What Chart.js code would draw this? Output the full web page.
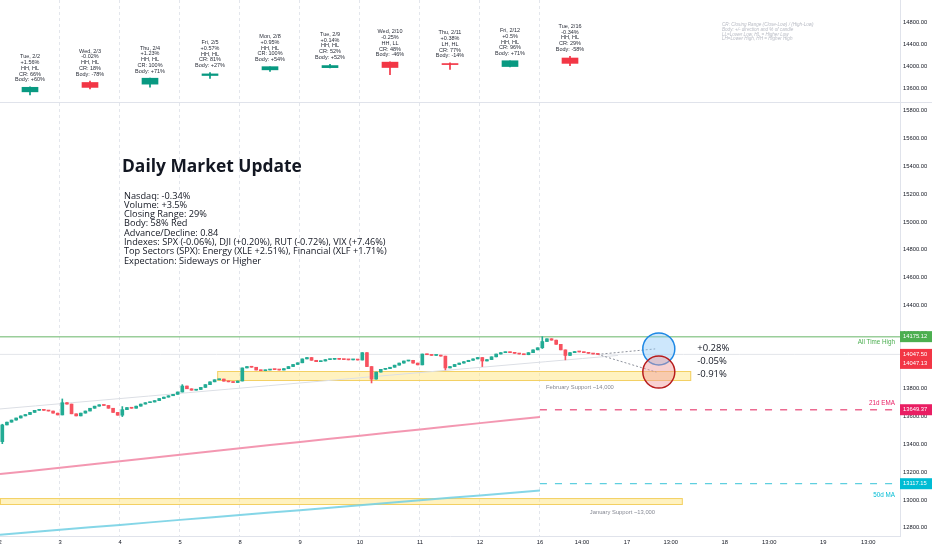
<!DOCTYPE html>
<html lang="en">
<head>
<meta charset="utf-8">
<title>Daily Market Update</title>
<script src="https://cdn.jsdelivr.net/npm/chart.js@4.4.1/dist/chart.umd.min.js"></script>
<style>
  body { margin: 0; background: #fff; }
  #lienzo { position: relative; width: 932px; height: 550px; overflow: hidden; }
  #arriba { position: absolute; left: 0; top: 0; }
  #principal { position: absolute; left: 0; top: 103px; }
  #titulo { position: absolute; left: 122px; top: 157px; font: bold 17.4px/17.4px "Open Sans"; color: #131722; white-space: nowrap; }
  #notas { position: absolute; left: 124px; top: 190.5px; font: 9.2px/9.3px "Open Sans"; color: #131722; white-space: pre; }
</style>
</head>
<body>
<div id="lienzo">
  <canvas id="arriba" width="932" height="103"></canvas>
  <canvas id="principal" width="932" height="447"></canvas>
  <div id="titulo">Daily Market Update</div>
  <div id="notas"></div>
</div>
<script>
// Colores y fuentes
const verde = '#089981', rojo = '#f23645';
const fuenteEje = '"Liberation Sans", Arial, sans-serif';

// Texto del resumen
const notas = [
  'Nasdaq: -0.34%',
  'Volume: +3.5%',
  'Closing Range: 29%',
  'Body: 58% Red',
  'Advance/Decline: 0.84',
  'Indexes: SPX (-0.06%), DJI (+0.20%), RUT (-0.72%), VIX (+7.46%)',
  'Top Sectors (SPX): Energy (XLE +2.51%), Financial (XLF +1.71%)',
  'Expectation: Sideways or Higher'
];

// Panel superior: velas diarias
const diasTexto = ['Tue, 2/2', 'Wed, 2/3', 'Thu, 2/4', 'Fri, 2/5', 'Mon, 2/8', 'Tue, 2/9', 'Wed, 2/10', 'Thu, 2/11', 'Fri, 2/12', 'Tue, 2/16'];
const diasCambio = ['+1.56%', '-0.02%', '+1.23%', '+0.57%', '+0.95%', '+0.14%', '-0.25%', '+0.38%', '+0.5%', '-0.34%'];
const diasEstructura = ['HH, HL', 'HH, HL', 'HH, HL', 'HH, HL', 'HH, HL', 'HH, HL', 'HH, LL', 'LH, HL', 'HH, HL', 'HH, HL'];
const diasCR = ['CR: 66%', 'CR: 18%', 'CR: 100%', 'CR: 81%', 'CR: 100%', 'CR: 52%', 'CR: 48%', 'CR: 77%', 'CR: 96%', 'CR: 29%'];
const diasBody = ['Body: +60%', 'Body: -78%', 'Body: +71%', 'Body: +27%', 'Body: +54%', 'Body: +52%', 'Body: -46%', 'Body: -14%', 'Body: +71%', 'Body: -58%'];
const diasOpen = [13530, 13700, 13670, 13827, 13930, 13970, 14070, 14043, 13990, 14145];
const diasHigh = [13620, 13727, 13778, 13878, 13987, 14028, 14075, 14058, 14096, 14175.12];
const diasLow = [13475, 13581, 13617, 13775, 13900, 13966, 13842, 13936, 13984, 14008];
const diasClose = [13612.78, 13610.54, 13777.74, 13856.30, 13987.64, 14007.70, 13972.53, 14025.77, 14095.47, 14047.50];
const ticksArriba = [13600, 14000, 14400, 14800];
const leyendaCR = [
  'CR: Closing Range (Close-Low) / (High-Low)',
  'Body: +/- direction and % of candle',
  'LL=Lower Low, HL = Higher Low',
  'LH=Lower High, HH = Higher High'
];

// Panel principal: velas intradia (13 barras por dia)
const aperturaInicial = 13420;
const cierresDia = [
  [13540, 13560, 13575, 13590, 13605, 13615, 13630, 13645, 13650, 13645, 13640, 13625, 13612],
  [13700, 13690, 13620, 13605, 13625, 13640, 13660, 13675, 13685, 13680, 13660, 13630, 13610],
  [13650, 13665, 13660, 13675, 13690, 13700, 13705, 13715, 13730, 13740, 13750, 13760, 13777],
  [13820, 13800, 13790, 13795, 13810, 13830, 13850, 13865, 13870, 13855, 13850, 13845, 13856],
  [13950, 13960, 13955, 13935, 13930, 13935, 13940, 13938, 13935, 13945, 13960, 13975, 13987],
  [14015, 14025, 14005, 13995, 14000, 14010, 14012, 14015, 14012, 14010, 14008, 14010, 14007],
  [14060, 13960, 13870, 13920, 13940, 13945, 13955, 13970, 13985, 14000, 14005, 13985, 13972],
  [14050, 14045, 14040, 14042, 14035, 13950, 13960, 13975, 13985, 13995, 14005, 14015, 14025],
  [14000, 14010, 14030, 14050, 14060, 14065, 14060, 14055, 14050, 14045, 14060, 14080, 14095],
  [14140, 14160, 14150, 14120, 14080, 14040, 14060, 14068, 14065, 14060, 14055, 14050, 14047.5]
];
// mechas largas visibles
const mechaDia = [0, 1, 2, 3, 6, 7, 8, 9, 9];
const mechaBarra = [0, 0, 0, 0, 2, 5, 0, 0, 5];
const mechaAlto = [13545, 13727, 13672, 13830, 13960, 14035, 14025, 14175.12, 14080];
const mechaBajo = [13405, 13612, 13600, 13777, 13842, 13936, 13960, 14090, 14008];

// Medias moviles (un valor por dia)
const mediasDia = [0, 1, 2, 3, 4, 5, 6, 7, 8, 9];
const ema21 = [13187, 13232, 13278, 13325, 13372, 13418, 13463, 13508, 13553, 13597];
const sma50 = [12750, 12786, 12821, 12857, 12892, 12927, 12962, 12998, 13033, 13068];
const ultimoEma = 13649.37, ultimoSma = 13117.15;
const maximoHistorico = 14175.12;
const ultimoPrecio = 14047.50, precioPrevio = 14047.13;

// Zonas y lineas dibujadas
const soporteFeb = [3.62, 11.52, 13856, 13928];
const soporteEne = [0, 11.38, 12964, 13014];
const tendX = [0, 10.3], tendY = [13655, 14040];
const proyTexto = ['+0.28%', '-0.05%', '-0.91%'];
const proyNivel = [14087, 14040, 13920];

// Eje x
const posTicks = [0, 1, 2, 3, 4, 5, 6, 7, 8, 9, 9.7, 10.45, 11.18, 12.08, 12.82, 13.72, 14.47];
const textoTicks = ['2', '3', '4', '5', '8', '9', '10', '11', '12', '16', '14:00', '17', '13:00', '18', '13:00', '19', '13:00'];
const ticksPrincipal = [12800, 13000, 13200, 13400, 13600, 13800, 14000, 14200, 14400, 14600, 14800, 15000, 15200, 15400, 15600, 15800];

document.getElementById('notas').textContent = notas.join('\n');

// Lineas verticales punteadas entre dias
function lineasDias(chart) {
  const {ctx, chartArea: a, scales: {x}} = chart;
  ctx.save();
  ctx.strokeStyle = '#e3e6ec';
  ctx.lineWidth = 1;
  ctx.setLineDash([3, 3]);
  for (let d = 1; d < diasTexto.length; d++) {
    const px = Math.round(x.getPixelForValue(d)) - 0.5;
    ctx.beginPath();
    ctx.moveTo(px, a.top);
    ctx.lineTo(px, a.bottom);
    ctx.stroke();
  }
  ctx.restore();
}

function ejeY(min, max, valores) {
  return {
    position: 'right', min, max,
    grid: { display: false, drawTicks: false },
    border: { color: '#e0e3eb' },
    afterFit(s) { s.width = 32; s.paddingTop = 0; s.paddingBottom = 0; },
    afterBuildTicks(s) { s.ticks = valores.map(v => ({ value: v })); },
    ticks: { padding: 3, color: '#131722', font: { family: fuenteEje, size: 5.8 }, callback: v => v.toFixed(2) }
  };
}

// ---------- Panel superior ----------
const diasCuerpo = diasOpen.map((o, d) => ({ x: d + 0.5, y: [o, diasClose[d]] }));
const diasMecha = diasLow.map((l, d) => ({ x: d + 0.5, y: [l, diasHigh[d]] }));
const diasColor = diasClose.map((c, d) => c >= diasOpen[d] ? verde : rojo);

const anotacionesArriba = {
  id: 'anotacionesArriba',
  beforeDatasetsDraw: lineasDias,
  afterDatasetsDraw(chart) {
    const {ctx, scales: {x, y}} = chart;
    ctx.save();
    ctx.fillStyle = '#2a2e39';
    ctx.font = `5.5px ${fuenteEje}`;
    ctx.textAlign = 'center';
    ctx.textBaseline = 'middle';
    diasTexto.forEach((t, d) => {
      const lineas = [t, diasCambio[d], diasEstructura[d], diasCR[d], diasBody[d]];
      const px = x.getPixelForValue(d + 0.5);
      const base = y.getPixelForValue(diasHigh[d]) - 7;
      lineas.forEach((l, i) => ctx.fillText(l, px, base - (lineas.length - 1 - i) * 5.75));
    });
    ctx.fillStyle = '#b8bbc4';
    ctx.font = `italic 4.6px ${fuenteEje}`;
    ctx.textAlign = 'left';
    leyendaCR.forEach((l, i) => ctx.fillText(l, 722, 25 + i * 4.7));
    ctx.restore();
  },
  afterDraw(chart) {
    const {ctx} = chart;
    ctx.save();
    ctx.strokeStyle = '#e0e3eb';
    ctx.beginPath();
    ctx.moveTo(0, chart.height - 0.5);
    ctx.lineTo(chart.width, chart.height - 0.5);
    ctx.stroke();
    ctx.restore();
  }
};

new Chart(document.getElementById('arriba'), {
  type: 'bar',
  data: {
    datasets: [
      { data: diasMecha, backgroundColor: diasColor, barThickness: 1, grouped: false },
      { data: diasCuerpo, backgroundColor: diasColor, barThickness: 16, grouped: false, minBarLength: 1 }
    ]
  },
  options: {
    responsive: false, animation: false,
    layout: { padding: 0, autoPadding: false },
    plugins: { legend: { display: false }, tooltip: { enabled: false } },
    scales: {
      x: { type: 'linear', min: 0, max: 15, offset: false, display: false },
      y: ejeY(13327, 15200, ticksArriba)
    }
  },
  plugins: [anotacionesArriba]
});

// ---------- Panel principal ----------
const cuerpos = [], mechas = [], coloresVela = [];
let previo = aperturaInicial;
cierresDia.forEach((dia, d) => {
  dia.forEach((c, b) => {
    const x = d + (b + 0.5) / dia.length;
    const o = previo;
    let hi = Math.max(o, c), lo = Math.min(o, c);
    const k = mechaDia.findIndex((v, i) => v === d && mechaBarra[i] === b);
    if (k >= 0) { hi = mechaAlto[k]; lo = mechaBajo[k]; }
    cuerpos.push({ x, y: [o, c] });
    mechas.push({ x, y: [lo, hi] });
    coloresVela.push(c >= o ? '#22ab94' : '#f7525f');
    previo = c;
  });
});
const ultimaX = cuerpos[cuerpos.length - 1].x;
const finEje = 15;

function linea(puntos, color, ancho, dash, orden) {
  return { type: 'line', data: puntos, borderColor: color, borderWidth: ancho, borderDash: dash || [],
           pointRadius: 0, fill: false, tension: 0.3, order: orden };
}

function etiquetaPrecio(ctx, yPix, color, textos, left, width) {
  const h = 11 + (textos.length - 1) * 9;
  ctx.fillStyle = color;
  ctx.fillRect(left, yPix - 5.5, width, h);
  ctx.fillStyle = '#fff';
  ctx.font = `5.8px ${fuenteEje}`;
  ctx.textAlign = 'left';
  ctx.textBaseline = 'middle';
  textos.forEach((t, i) => ctx.fillText(t, left + 3, yPix + i * 9));
}

const dibujosPrincipal = {
  id: 'dibujosPrincipal',
  beforeDatasetsDraw(chart) {
    lineasDias(chart);
    const {ctx, scales: {x, y}} = chart;
    ctx.save();
    [soporteFeb, soporteEne].forEach(z => {
      const x0 = x.getPixelForValue(z[0]), x1 = x.getPixelForValue(z[1]);
      const y0 = y.getPixelForValue(z[3]), y1 = y.getPixelForValue(z[2]);
      ctx.fillStyle = 'rgba(255,229,130,0.5)';
      ctx.fillRect(x0, y0, x1 - x0, y1 - y0);
      ctx.strokeStyle = 'rgba(242,205,90,0.9)';
      ctx.lineWidth = 1;
      ctx.strokeRect(x0 + 0.5, y0 + 0.5, x1 - x0 - 1, y1 - y0 - 1);
    });
    ctx.restore();
  },
  afterDatasetsDraw(chart) {
    const {ctx, chartArea: a, scales: {x, y}} = chart;
    ctx.save();
    // circulos de objetivo
    const cx = x.getPixelForValue(10.98);
    [[proyNivel[0], 'rgba(144,202,249,0.45)', '#1e88e5'], [proyNivel[2], 'rgba(239,154,154,0.45)', '#b71c1c']].forEach(c => {
      ctx.beginPath();
      ctx.arc(cx, y.getPixelForValue(c[0]), 16, 0, Math.PI * 2);
      ctx.fillStyle = c[1];
      ctx.fill();
      ctx.strokeStyle = c[2];
      ctx.lineWidth = 1.5;
      ctx.stroke();
    });
    // textos de proyeccion
    ctx.fillStyle = '#131722';
    ctx.font = '9.5px "Open Sans"';
    ctx.textAlign = 'left';
    ctx.textBaseline = 'middle';
    let yAnt = -100;
    proyTexto.forEach((t, i) => {
      const py = Math.max(y.getPixelForValue(proyNivel[i]) - 1, yAnt + 13);
      ctx.fillText(t, x.getPixelForValue(11.62), py);
      yAnt = py;
    });
    // etiquetas de lineas
    ctx.font = `6.3px ${fuenteEje}`;
    ctx.textAlign = 'right';
    ctx.fillStyle = '#4caf50';
    ctx.fillText('All Time High', a.right - 5, y.getPixelForValue(maximoHistorico) + 6);
    ctx.fillStyle = '#e91e63';
    ctx.fillText('21d EMA', a.right - 5, y.getPixelForValue(ultimoEma) - 6);
    ctx.fillStyle = '#00bcd4';
    ctx.fillText('50d MA', a.right - 5, y.getPixelForValue(ultimoSma) + 12);
    ctx.font = `5.8px ${fuenteEje}`;
    ctx.textAlign = 'left';
    ctx.fillStyle = '#868993';
    ctx.fillText('February Support ~14,000', x.getPixelForValue(9.1), y.getPixelForValue(soporteFeb[2]) + 6);
    ctx.fillText('January Support ~13,000', x.getPixelForValue(9.83), y.getPixelForValue(soporteEne[2]) + 7);
    ctx.restore();
  },
  afterDraw(chart) {
    const {ctx, chartArea: a, scales: {y}} = chart;
    ctx.save();
    const w = chart.width - a.right;
    etiquetaPrecio(ctx, y.getPixelForValue(maximoHistorico), '#4caf50', [maximoHistorico.toFixed(2)], a.right, w);
    etiquetaPrecio(ctx, y.getPixelForValue(ultimoPrecio), '#f23645', [ultimoPrecio.toFixed(2), precioPrevio.toFixed(2)], a.right, w);
    etiquetaPrecio(ctx, y.getPixelForValue(ultimoEma), '#e91e63', [ultimoEma.toFixed(2)], a.right, w);
    etiquetaPrecio(ctx, y.getPixelForValue(ultimoSma), '#00bcd4', [ultimoSma.toFixed(2)], a.right, w);
    ctx.restore();
  }
};

new Chart(document.getElementById('principal'), {
  type: 'bar',
  data: {
    datasets: [
      { data: mechas, backgroundColor: coloresVela, barThickness: 1, grouped: false, order: 1 },
      { data: cuerpos, backgroundColor: coloresVela, barThickness: 3, grouped: false, minBarLength: 1, order: 0 },
      linea(mediasDia.map((d, i) => ({ x: d, y: ema21[i] })), 'rgba(242,140,168,0.9)', 2, null, 5),
      linea(mediasDia.map((d, i) => ({ x: d, y: sma50[i] })), 'rgba(120,210,228,0.9)', 2, null, 5),
      linea([{ x: 9, y: ultimoEma }, { x: finEje, y: ultimoEma }], '#ec6a91', 1.3, [7, 8], 5),
      linea([{ x: 9, y: ultimoSma }, { x: finEje, y: ultimoSma }], '#5fcfdf', 1.3, [7, 8], 5),
      linea([{ x: 0, y: maximoHistorico }, { x: finEje, y: maximoHistorico }], 'rgba(120,190,120,0.75)', 1.5, null, 4),
      linea([{ x: 0, y: ultimoPrecio }, { x: finEje, y: ultimoPrecio }], '#e3e5ea', 1, null, 6),
      linea(tendX.map((v, i) => ({ x: v, y: tendY[i] })), '#dcdfe5', 1, null, 6),
      linea([{ x: ultimaX, y: ultimoPrecio }, { x: 10.92, y: proyNivel[0] }], '#8d919b', 1, [2, 2], 3),
      linea([{ x: ultimaX, y: ultimoPrecio }, { x: 10.94, y: proyNivel[2] }], '#8d919b', 1, [2, 2], 3)
    ]
  },
  options: {
    responsive: false, animation: false,
    layout: { padding: 0, autoPadding: false },
    plugins: { legend: { display: false }, tooltip: { enabled: false } },
    scales: {
      x: {
        type: 'linear', min: 0, max: finEje, offset: false,
        grid: { display: false, drawTicks: false },
        border: { color: '#e0e3eb' },
        afterFit(s) { s.height = 14; s.paddingLeft = 0; s.paddingRight = 0; },
        afterBuildTicks(s) { s.ticks = posTicks.map(v => ({ value: v })); },
        ticks: { autoSkip: false, maxRotation: 0, padding: 3, color: '#131722',
                 font: { family: fuenteEje, size: 5.8 }, callback: (v, i) => textoTicks[i] }
      },
      y: ejeY(12741, 15856, ticksPrincipal)
    }
  },
  plugins: [dibujosPrincipal]
});
</script>
</body>
</html>
